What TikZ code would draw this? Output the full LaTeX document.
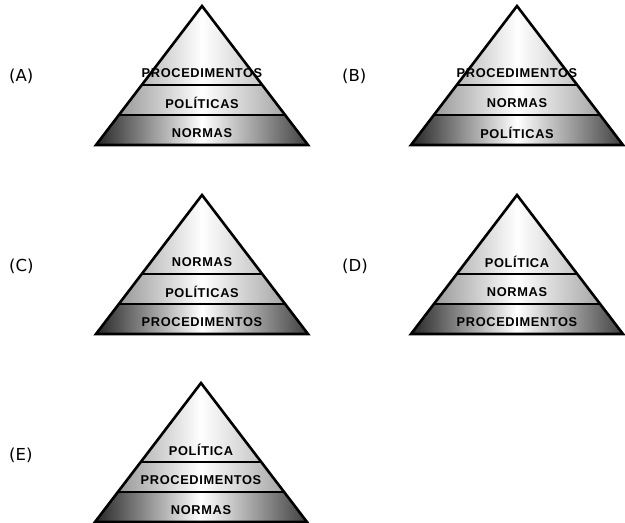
\documentclass[tikz,border=0pt]{standalone}
\usepackage{fontspec}
\setmainfont{Liberation Sans}
\newfontfamily\lblfont{DejaVu Sans}
\newfontfamily\pyrfont{Liberation Sans}[LetterSpace=5]
\tikzset{
  pedge/.style={line width=2.6pt, line join=miter},
  psep/.style={line width=1.8pt},
  bandtxt/.style={font=\pyrfont\bfseries\fontsize{12.8}{13}\selectfont, inner sep=0pt},
  lbl/.style={font=\lblfont\fontsize{16.5}{20}\selectfont, anchor=west, inner sep=0pt}
}
\newcommand\Pyramid[6]{%
  \coordinate (#1-apex) at (#2,#3);
  \coordinate (#1-l1) at ({#2-106*79/140},{#3+79});
  \coordinate (#1-r1) at ({#2+106*79/140},{#3+79});
  \coordinate (#1-l2) at ({#2-106*109/140},{#3+109});
  \coordinate (#1-r2) at ({#2+106*109/140},{#3+109});
  \coordinate (#1-l3) at ({#2-106},{#3+139});
  \coordinate (#1-r3) at ({#2+106},{#3+139});
  \shade[left color=gray!55, right color=gray!45, middle color=white]
    (#1-apex) -- (#1-l1) -- (#1-r1) -- cycle;
  \shade[left color=gray!80, right color=gray!70, middle color=white]
    (#1-l1) -- (#1-l2) -- (#1-r2) -- (#1-r1) -- cycle;
  \shade[left color=black!85, right color=black!75, middle color=white]
    (#1-l2) -- (#1-l3) -- (#1-r3) -- (#1-r2) -- cycle;
  \node[bandtxt] (#1-t1) at (#2,{#3+67}) {#4};
  \node[bandtxt] (#1-t2) at (#2,{#3+97}) {#5};
  \node[bandtxt] (#1-t3) at (#2,{#3+127}) {#6};
  \draw[psep] (#1-l1) -- (#1-r1);
  \draw[psep] (#1-l2) -- (#1-r2);
  \draw[pedge] (#1-apex) -- (#1-l3) -- (#1-r3) -- cycle;
}
\begin{document}
\begin{tikzpicture}[x=1pt,y=-1pt]
\useasboundingbox (0,0) rectangle (625,523);
\Pyramid{A}{202}{6}{PROCEDIMENTOS}{POLÍTICAS}{NORMAS}
\Pyramid{B}{517}{6}{PROCEDIMENTOS}{NORMAS}{POLÍTICAS}
\Pyramid{C}{202}{195}{NORMAS}{POLÍTICAS}{PROCEDIMENTOS}
\Pyramid{D}{517}{195}{POLÍTICA}{NORMAS}{PROCEDIMENTOS}
\Pyramid{E}{201}{383}{POLÍTICA}{PROCEDIMENTOS}{NORMAS}
\node[lbl] (la) at (9,76) {(A)};
\node[lbl] (lb) at (342,76) {(B)};
\node[lbl] (lc) at (9,266) {(C)};
\node[lbl] (ld) at (342,266) {(D)};
\node[lbl] (le) at (9,455) {(E)};
\end{tikzpicture}
\end{document}
